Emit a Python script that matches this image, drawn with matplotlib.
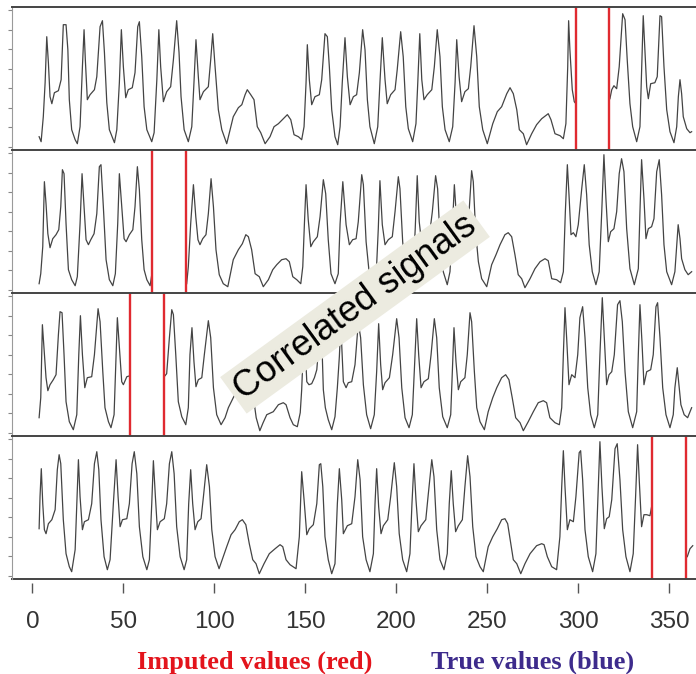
import matplotlib.pyplot as plt
import numpy as np

# four correlated traffic-like signals, (time index, level) vertices
signal_1 = [
    (3.7, 10), (4.8, 5), (6.0, 30), (7.0, 64), (7.9, 110), (8.8, 84), (9.7, 50), (10.7, 43),
    (12.1, 54), (14.3, 56), (15.8, 67), (17.0, 122), (18.5, 122), (19.5, 97), (20.3, 47),
    (21.6, 17), (23.5, 7), (24.7, 3), (26.2, 20), (27.5, 80), (28.4, 117), (29.1, 87),
    (30.2, 47), (31.7, 52), (34.1, 57), (35.4, 70), (37.2, 120), (38.5, 126), (39.6, 94),
    (40.9, 44), (42.3, 17), (45.1, 4), (46.4, 17), (47.8, 64), (48.9, 117), (50.0, 80),
    (51.3, 49), (52.7, 57), (54.9, 59), (56.4, 74), (57.9, 120), (58.8, 125), (60.1, 90),
    (61.4, 40), (62.9, 17), (65.6, 5), (66.9, 14), (68.4, 67), (69.5, 117), (70.5, 80),
    (72.0, 45), (73.8, 55), (76.0, 60), (77.5, 87), (79.3, 126), (80.6, 94), (81.7, 50),
    (83.4, 17), (85.7, 5), (87.6, 20), (88.8, 64), (89.9, 107), (91.2, 70), (92.1, 47),
    (94.0, 55), (96.7, 60), (98.0, 87), (99.1, 113), (100.4, 80), (102.2, 37), (104.1, 17),
    (106.8, 3), (110.4, 30), (113.2, 39), (115.1, 42), (116.9, 52), (118.1, 57), (120.0, 52),
    (121.8, 47), (123.6, 20), (125.5, 14), (127.9, 3), (130.6, 10), (132.8, 20), (135.2, 23),
    (137.9, 28), (140.1, 32), (142.0, 27), (143.8, 12), (146.2, 10), (148.0, 7), (149.3, 20),
    (150.4, 64), (151.1, 102), (152.2, 67), (153.5, 42), (155.3, 50), (157.7, 52), (159.0, 67),
    (160.8, 113), (162.1, 110), (163.2, 80), (164.5, 37), (166.3, 10), (167.8, 2), (169.1, 20),
    (170.3, 64), (171.8, 109), (173.1, 70), (174.6, 42), (176.4, 50), (178.2, 52), (179.7, 74),
    (181.5, 117), (182.8, 97), (184.1, 47), (185.5, 20), (187.9, 3), (189.8, 20), (191.0, 64),
    (192.3, 109), (193.8, 67), (195.0, 43), (196.9, 52), (199.3, 57), (200.5, 77), (202.4, 115),
    (203.8, 90), (205.2, 40), (206.6, 18), (209.0, 5), (210.8, 23), (211.8, 64), (212.9, 113),
    (214.0, 67), (215.2, 47), (217.0, 52), (219.5, 57), (220.9, 80), (222.5, 117), (224.0, 90),
    (225.3, 40), (226.8, 17), (229.1, 5), (231.0, 20), (232.3, 64), (233.2, 107), (234.5, 70),
    (235.9, 45), (237.7, 55), (239.6, 58), (240.9, 80), (242.7, 121), (244.2, 90), (245.6, 40),
    (247.5, 17), (250.0, 3), (253.0, 23), (255.5, 35), (257.9, 40), (260.7, 53), (262.5, 59),
    (264.3, 53), (266.2, 37), (267.6, 17), (269.8, 13), (271.6, 2), (274.4, 13), (277.1, 22),
    (279.9, 28), (283.5, 33), (285.0, 27), (287.2, 13), (290.0, 11), (291.8, 8), (293.2, 23),
    (294.2, 80), (294.7, 126), (295.4, 97), (296.7, 57), (297.8, 45), (298.7, 43),
    (317.4, 48), (318.4, 57), (319.6, 61), (321.1, 58), (322.5, 80), (324.4, 133), (325.7, 127),
    (326.9, 87), (328.4, 43), (329.9, 20), (332.1, 5), (333.9, 20), (334.8, 74), (335.7, 131),
    (336.6, 97), (337.6, 60), (338.5, 48), (339.8, 63), (342.1, 64), (343.4, 70), (344.9, 131),
    (345.8, 130), (347.1, 80), (348.6, 37), (350.4, 15), (352.6, 4), (354.1, 20), (355.0, 50),
    (355.9, 67), (356.8, 53), (357.7, 30), (359.6, 18), (361.4, 14), (362.3, 15),
]

signal_2 = [
    (3.7, 6), (4.6, 16), (5.7, 43), (6.6, 108), (7.5, 86), (8.5, 56), (9.7, 42), (11.2, 51),
    (13.0, 55), (14.5, 60), (15.6, 83), (16.5, 120), (17.4, 116), (18.5, 66), (19.8, 20),
    (21.6, 10), (23.5, 4), (24.7, 13), (26.2, 66), (27.3, 116), (28.4, 83), (29.5, 50),
    (30.8, 45), (32.1, 50), (33.9, 56), (35.4, 76), (36.8, 123), (37.7, 125), (39.0, 83),
    (40.5, 30), (42.3, 10), (44.2, 4), (45.6, 16), (46.9, 66), (47.8, 116), (49.1, 83),
    (50.4, 51), (51.5, 48), (53.3, 55), (55.2, 60), (56.4, 83), (57.7, 123), (58.8, 100),
    (60.1, 50), (61.4, 20), (62.9, 10), (64.7, 4), (65.6, 15),
    (84.8, 6), (85.7, 23), (87.0, 66), (88.5, 105), (89.8, 73), (91.0, 50), (92.1, 45),
    (93.6, 51), (95.4, 55), (96.7, 76), (98.2, 111), (99.5, 83), (100.9, 40), (102.7, 15),
    (104.9, 6), (107.4, 3), (110.4, 30), (113.2, 40), (115.4, 46), (117.3, 55), (118.7, 53),
    (120.5, 40), (122.4, 16), (124.7, 13), (126.9, 3), (129.7, 10), (132.1, 20), (134.3, 25),
    (137.0, 30), (139.4, 31), (141.2, 28), (143.1, 13), (145.3, 10), (147.5, 6), (148.6, 23),
    (149.5, 66), (150.4, 105), (151.6, 70), (153.0, 43), (154.4, 48), (156.6, 53), (158.1, 73),
    (159.9, 110), (161.2, 96), (162.6, 50), (164.1, 16), (166.3, 6), (168.1, 16), (169.1, 66),
    (170.6, 108), (172.4, 65), (174.2, 45), (176.0, 50), (177.9, 51), (179.1, 68), (181.0, 115),
    (181.9, 105), (183.4, 48), (185.2, 15), (187.0, 2), (189.2, 25), (190.1, 61), (191.0, 109),
    (192.3, 65), (193.8, 45), (195.6, 50), (197.8, 53), (199.3, 78), (201.1, 113), (202.0, 101),
    (203.5, 48), (205.3, 15), (207.1, 3), (209.3, 21), (210.4, 61), (211.5, 114), (212.6, 68),
    (214.0, 45), (215.8, 50), (218.1, 53), (219.8, 78), (221.6, 114), (222.7, 101), (224.0, 51),
    (225.8, 18), (228.0, 5), (229.5, 18), (230.8, 61), (231.9, 105), (233.2, 68), (234.5, 45),
    (236.5, 50), (238.5, 53), (240.0, 78), (241.4, 119), (242.3, 108), (243.6, 58), (245.1, 28),
    (246.9, 11), (249.7, 3), (252.4, 25), (254.8, 35), (257.0, 45), (259.7, 55), (261.5, 57),
    (263.4, 53), (265.2, 35), (267.0, 15), (268.9, 11), (270.7, 2), (273.5, 11), (276.2, 21),
    (279.0, 28), (281.7, 31), (283.5, 29), (285.4, 11), (288.1, 10), (290.3, 7), (291.8, 18),
    (292.9, 78), (294.0, 125), (294.9, 95), (296.0, 55), (297.3, 57), (298.7, 53), (300.0, 65),
    (301.9, 101), (303.3, 125), (304.6, 95), (306.0, 45), (307.7, 18), (309.7, 5), (311.5, 18),
    (312.9, 78), (314.1, 135), (315.2, 91), (316.5, 48), (317.8, 58), (319.6, 61), (321.1, 78),
    (322.5, 116), (323.8, 131), (325.1, 118), (326.6, 61), (328.4, 21), (330.8, 5), (333.0, 21),
    (333.9, 78), (334.8, 130), (336.1, 91), (337.2, 51), (338.5, 61), (340.3, 63), (341.6, 71),
    (343.1, 118), (344.5, 130), (345.8, 95), (347.1, 45), (348.6, 18), (351.3, 5), (353.1, 18),
    (354.1, 45), (354.9, 65), (355.9, 51), (356.8, 31), (358.6, 20), (360.4, 15), (362.3, 18),
]

signal_3 = [
    (3.7, 15), (4.6, 35), (5.5, 108), (6.6, 78), (7.5, 55), (8.5, 42), (9.7, 48), (11.5, 53),
    (13.0, 58), (14.3, 98), (15.2, 121), (16.3, 120), (17.4, 78), (18.5, 31), (20.3, 11),
    (22.5, 3), (24.4, 18), (25.5, 78), (26.4, 117), (27.5, 78), (28.8, 45), (30.2, 55),
    (32.6, 56), (34.1, 78), (36.1, 124), (37.2, 111), (38.7, 61), (39.9, 25), (41.8, 11),
    (43.2, 5), (44.9, 18), (46.0, 78), (46.7, 115), (47.8, 85), (49.1, 51), (50.0, 48),
    (51.9, 56), (53.7, 57),
    (72.9, 57), (73.8, 59), (75.3, 95), (76.6, 123), (77.5, 118), (78.8, 78), (80.2, 31),
    (82.1, 16), (84.3, 8), (85.7, 25), (86.6, 78), (87.7, 105), (88.8, 71), (89.9, 46),
    (91.2, 53), (93.1, 55), (94.5, 78), (96.7, 112), (98.0, 95), (99.5, 45), (101.3, 18),
    (103.7, 8), (105.9, 15), (107.7, 25), (110.4, 35), (112.5, 42), (115.0, 50), (117.5, 56),
    (119.5, 52), (121.5, 35), (123.0, 15), (125.0, 2), (126.8, 10), (128.8, 18), (132.4, 21),
    (135.2, 28), (137.9, 30), (139.4, 28), (141.6, 15), (143.4, 8), (145.6, 6), (147.2, 20),
    (148.0, 43), (148.8, 80), (149.5, 108), (150.2, 75), (150.8, 51), (152.0, 48), (153.5, 49),
    (155.0, 55), (156.3, 63), (157.3, 85), (158.3, 112), (159.1, 90), (159.9, 43), (161.0, 25),
    (162.6, 13), (164.5, 3), (166.3, 16), (167.6, 45), (168.7, 76), (169.5, 108), (170.2, 80),
    (170.9, 51), (172.4, 45), (173.6, 50), (175.5, 51), (177.3, 68), (179.1, 110), (180.4, 95),
    (181.9, 48), (183.7, 18), (185.9, 4), (187.9, 18), (189.2, 61), (190.3, 109), (191.4, 68),
    (192.5, 43), (193.8, 50), (196.2, 55), (198.0, 78), (200.2, 114), (201.5, 95), (203.0, 45),
    (204.8, 15), (207.0, 5), (208.8, 18), (209.9, 61), (211.2, 114), (212.3, 78), (213.6, 45),
    (215.2, 51), (217.6, 54), (219.1, 78), (220.9, 114), (222.2, 95), (223.6, 45), (225.5, 16),
    (228.0, 5), (229.9, 18), (230.8, 61), (231.7, 105), (232.8, 71), (234.1, 43), (235.4, 51),
    (237.7, 55), (239.0, 78), (240.5, 120), (241.4, 111), (242.9, 61), (244.2, 25), (246.0, 11),
    (248.4, 3), (250.5, 21), (253.0, 35), (255.2, 45), (257.9, 55), (260.1, 58), (261.9, 53),
    (263.7, 35), (265.6, 15), (268.0, 10), (269.8, 2), (272.5, 11), (275.3, 21), (278.0, 30),
    (280.8, 32), (282.6, 30), (284.4, 15), (287.2, 10), (289.6, 8), (290.9, 25), (291.8, 78),
    (292.7, 125), (293.6, 95), (294.9, 48), (296.4, 58), (298.2, 55), (299.7, 78), (300.9, 115),
    (302.4, 126), (303.7, 95), (305.2, 45), (306.8, 18), (308.8, 5), (310.7, 18), (311.9, 78),
    (313.2, 135), (314.3, 95), (315.6, 48), (316.9, 58), (318.4, 61), (319.8, 78), (321.6, 128),
    (322.9, 132), (324.2, 111), (325.7, 61), (327.5, 21), (329.9, 5), (332.1, 21), (333.0, 78),
    (333.9, 128), (335.0, 91), (336.1, 48), (337.6, 61), (339.8, 63), (341.2, 78), (342.7, 126),
    (343.6, 130), (344.9, 95), (346.4, 45), (348.2, 18), (350.4, 5), (352.2, 18), (353.1, 45),
    (354.4, 65), (355.5, 45), (356.4, 28), (358.2, 18), (360.1, 15), (362.3, 25),
]

signal_4 = [
    (3.7, 47), (4.2, 79), (4.9, 107), (5.7, 72), (6.6, 46), (7.5, 42), (8.8, 52), (10.7, 56),
    (12.5, 66), (13.7, 106), (14.7, 121), (15.6, 112), (17.0, 56), (18.5, 22), (20.3, 9),
    (21.6, 4), (23.5, 26), (24.4, 72), (25.3, 116), (26.2, 79), (27.5, 46), (28.6, 54),
    (30.8, 56), (32.6, 72), (34.1, 112), (35.4, 124), (36.5, 106), (37.7, 56), (39.4, 19),
    (41.2, 6), (42.7, 16), (44.5, 72), (46.0, 116), (47.1, 79), (48.2, 49), (49.5, 56),
    (51.9, 57), (53.3, 72), (54.8, 112), (56.0, 124), (57.4, 102), (58.8, 49), (60.7, 19),
    (62.9, 6), (64.3, 16), (65.6, 72), (66.5, 115), (67.6, 79), (68.7, 46), (70.2, 54),
    (72.5, 57), (73.8, 72), (75.3, 112), (76.6, 124), (77.9, 102), (79.3, 49), (81.2, 19),
    (83.4, 6), (84.8, 16), (85.9, 72), (87.0, 106), (88.1, 72), (89.4, 46), (90.9, 54),
    (92.7, 57), (94.0, 79), (95.8, 111), (97.3, 89), (98.6, 46), (100.4, 19), (102.6, 7),
    (106.8, 29), (109.2, 41), (111.4, 46), (113.7, 54), (115.4, 56), (117.3, 51), (119.2, 32),
    (121.1, 16), (122.9, 12), (124.7, 2), (127.3, 12), (130.2, 22), (133.4, 27), (136.1, 31),
    (137.6, 29), (139.4, 16), (141.6, 11), (144.9, 7), (146.7, 39), (148.0, 104), (149.3, 76),
    (150.8, 41), (152.2, 47), (154.4, 51), (156.3, 72), (157.7, 111), (158.5, 112), (159.6, 89),
    (160.8, 39), (162.6, 16), (164.5, 2), (166.3, 12), (167.6, 72), (168.7, 107), (170.0, 76),
    (170.9, 42), (173.1, 50), (175.5, 52), (177.3, 79), (178.8, 116), (180.1, 96), (181.5, 39),
    (183.4, 16), (185.5, 4), (187.4, 22), (188.3, 72), (189.2, 107), (190.3, 69), (191.6, 42),
    (192.9, 50), (195.3, 56), (196.9, 79), (198.9, 113), (200.2, 89), (201.6, 42), (203.5, 16),
    (205.7, 4), (207.5, 22), (208.6, 72), (209.7, 112), (210.8, 76), (212.1, 44), (213.6, 50),
    (216.2, 56), (217.6, 82), (219.5, 116), (220.7, 99), (222.2, 46), (224.0, 16), (226.2, 6),
    (228.0, 22), (229.1, 72), (230.2, 105), (231.3, 72), (232.6, 44), (234.1, 50), (236.3, 56),
    (237.7, 89), (239.2, 120), (240.5, 99), (242.0, 49), (243.8, 19), (246.0, 9), (247.8, 4),
    (250.5, 29), (253.0, 39), (255.5, 47), (257.9, 56), (259.7, 57), (261.2, 52), (262.9, 32),
    (264.3, 16), (266.2, 12), (268.4, 2), (270.7, 12), (273.5, 22), (277.1, 30), (279.9, 32),
    (281.2, 31), (283.0, 19), (285.4, 9), (288.1, 6), (289.9, 39), (290.9, 89), (291.8, 125),
    (292.7, 89), (294.0, 46), (295.4, 56), (297.3, 54), (298.7, 79), (300.5, 123), (301.3, 125),
    (302.4, 96), (303.7, 46), (305.5, 19), (307.9, 4), (309.7, 22), (311.0, 89), (311.9, 134),
    (313.0, 89), (314.3, 47), (315.6, 57), (317.0, 59), (318.4, 76), (320.2, 127), (321.4, 132),
    (322.9, 96), (324.4, 46), (326.2, 19), (328.4, 4), (330.2, 22), (331.5, 79), (332.6, 131),
    (333.5, 96), (334.8, 49), (336.1, 61), (337.6, 61), (339.4, 60), (340.3, 69),
    (359.9, 19), (361.4, 27), (362.9, 30),
]

signals = [signal_1, signal_2, signal_3, signal_4]

# start/end of the imputed stretch in each signal
imputed_gaps = [(298.7, 317.0), (65.6, 84.3), (53.7, 72.4), (340.3, 359.2)]

x_ticks = [0, 50, 100, 150, 200, 250, 300, 350]

W, H = 696, 674
fig = plt.figure(figsize=(W / 100, H / 100), dpi=100)

left_px, top_px, panel_px = 12, 7, 143
x_range = (-11.2, 364.7)
y_range = (-3.3, 139.7)

for k, (sig, gap) in enumerate(zip(signals, imputed_gaps)):
    top = top_px + panel_px * k
    ax = fig.add_axes([left_px / W, 1 - (top + panel_px) / H, 1 - left_px / W, panel_px / H])

    x, y = np.array(sig, dtype=float).T
    cut = np.searchsorted(x, 0.5 * (gap[0] + gap[1]))
    x = np.insert(x, cut, np.nan)
    y = np.insert(y, cut, np.nan)
    ax.plot(x, y, color="#444444", lw=0.9)

    for g in gap:
        ax.axvline(g, color="#e02a30", lw=1.7)

    ax.set_xlim(*x_range)
    ax.set_ylim(*y_range)
    ax.set_yticks(np.linspace(0, 136.7, 8))
    ax.tick_params(axis="y", direction="out", length=3, width=0.8, color="#888888", labelleft=False)

    for side in ("right", "bottom"):
        ax.spines[side].set_visible(False)
    ax.spines["top"].set_color("#444444")
    ax.spines["top"].set_linewidth(1.4)
    ax.spines["left"].set_color("#9a9a9a")
    ax.spines["left"].set_linewidth(0.8)

    if k < 3:
        ax.set_xticks([])
    else:
        # bottom border plus detached tick marks
        ax.axhline(y_range[0], color="#444444", lw=1.4, clip_on=False)
        ax.spines["bottom"].set_position(("outward", 3))
        ax.set_xticks(x_ticks)
        ax.tick_params(axis="x", direction="out", length=7, width=1.0, color="#555555",
                       pad=13, labelsize=17.5, labelcolor="#333333")
        for lab in ax.get_xticklabels():
            lab.set_family("Liberation Sans")

fig.text(255 / W, 1 - 662 / H, "Imputed values (red)", ha="center", va="center",
         fontsize=19, fontweight="bold", family="Liberation Serif", color="#e3141c")
fig.text(533 / W, 1 - 662 / H, "True values (blue)", ha="center", va="center",
         fontsize=19, fontweight="bold", family="Liberation Serif", color="#3d2b8c")

fig.text(355 / W, 1 - 307 / H, "Correlated signals", ha="center", va="center",
         rotation=36, rotation_mode="anchor", fontsize=26, family="Liberation Sans",
         color="black", zorder=10,
         bbox=dict(boxstyle="square,pad=0.14", fc="#ecebe0", ec="none"))

fig.savefig("out.png", dpi=100)
